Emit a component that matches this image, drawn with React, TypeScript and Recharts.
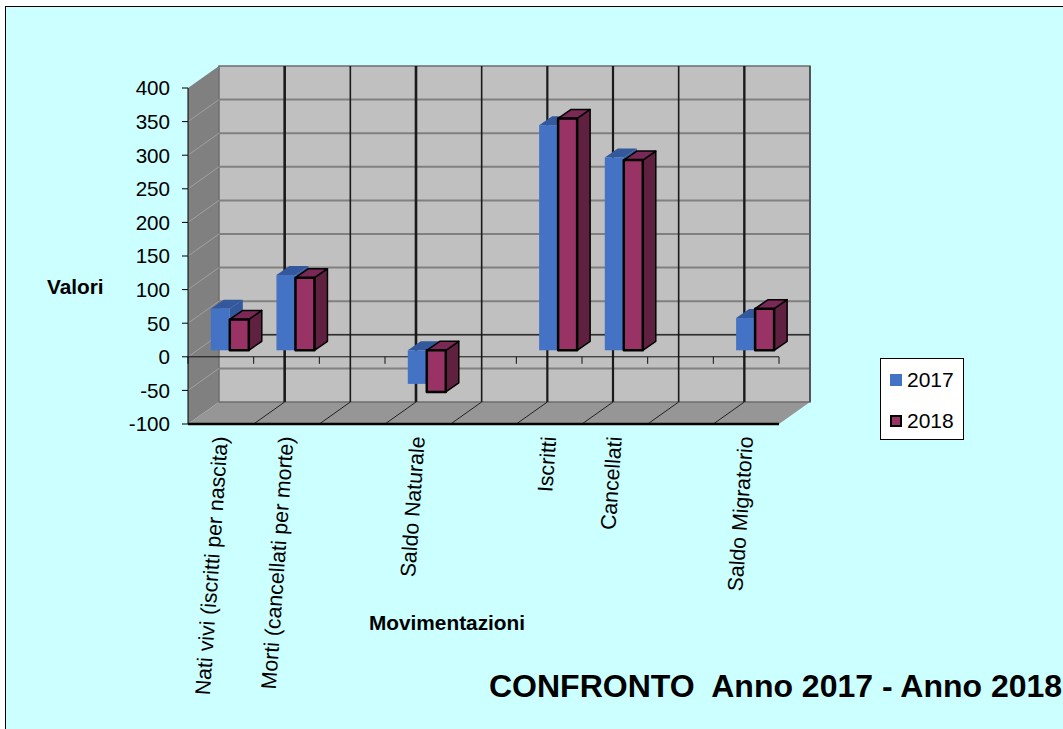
import { BarChart, Bar, XAxis, YAxis, Legend } from "recharts";

const categories = [
  "Nati vivi (iscritti per nascita)",
  "Morti (cancellati per morte)",
  "",
  "Saldo Naturale",
  "",
  "Iscritti",
  "Cancellati",
  "",
  "Saldo Migratorio",
];
const values2017 = [62, 112, null, -50, null, 335, 287, null, 48];
const values2018 = [46, 108, null, -62, null, 345, 283, null, 62];
const valueTicks = [-100, -50, 0, 50, 100, 150, 200, 250, 300, 350, 400];

const data = categories.map((name, i) => ({
  name: name || `blank${i}`,
  label: name,
  y2017: values2017[i],
  y2018: values2018[i],
}));

// plot box of the front plane and the depth of the 3D box
const LEFT = 188;
const RIGHT = 779;
const TOP = 88;
const BOTTOM = 424;
const DEPTH_X = 31;
const DEPTH_Y = -22;
const FONT = "'Liberation Sans', Arial, sans-serif";
// the back wall verticals are not all the same weight in the reference
const wallLineWidths = [2.6, 1.6, 2.6, 1.6, 2.2, 2.2, 1.6, 2.4];

const yOf = (v: number) => TOP + ((400 - v) * (BOTTOM - TOP)) / 500;
const slots = categories.map((_, i) => LEFT + ((i + 1) * (RIGHT - LEFT)) / categories.length);

function Walls() {
  return (
    <g>
      <polygon
        points={`${LEFT},${TOP} ${LEFT + DEPTH_X},${TOP + DEPTH_Y} ${LEFT + DEPTH_X},${BOTTOM + DEPTH_Y} ${LEFT},${BOTTOM}`}
        fill="#808080"
      />
      <polygon
        points={`${LEFT},${BOTTOM} ${RIGHT},${BOTTOM} ${RIGHT + DEPTH_X},${BOTTOM + DEPTH_Y} ${LEFT + DEPTH_X},${BOTTOM + DEPTH_Y}`}
        fill="#969696"
      />
      <rect
        x={LEFT + DEPTH_X}
        y={TOP + DEPTH_Y}
        width={RIGHT - LEFT}
        height={BOTTOM - TOP}
        fill="#c0c0c0"
        stroke="#6e6e6e"
        strokeWidth={1.5}
      />
      {valueTicks.slice(1, -1).map((v) => (
        <g key={v}>
          <line
            x1={LEFT}
            y1={yOf(v)}
            x2={LEFT + DEPTH_X}
            y2={yOf(v) + DEPTH_Y}
            stroke="#a0a0a0"
          />
          <line
            x1={LEFT + DEPTH_X}
            y1={yOf(v) + DEPTH_Y}
            x2={RIGHT + DEPTH_X}
            y2={yOf(v) + DEPTH_Y}
            stroke="#808080"
            strokeWidth={2}
          />
        </g>
      ))}
      {slots.slice(0, -1).map((x, i) => (
        <g key={x}>
          <line x1={x} y1={BOTTOM} x2={x + DEPTH_X} y2={BOTTOM + DEPTH_Y} stroke="#222" />
          <line
            x1={x + DEPTH_X}
            y1={TOP + DEPTH_Y}
            x2={x + DEPTH_X}
            y2={BOTTOM + DEPTH_Y}
            stroke="#1a1a1a"
            strokeWidth={wallLineWidths[i]}
          />
        </g>
      ))}
      <line x1={RIGHT + DEPTH_X} y1={TOP + DEPTH_Y} x2={RIGHT + DEPTH_X} y2={BOTTOM + DEPTH_Y} stroke="#444" strokeWidth={1.5} />
      {/* zero plane */}
      <line x1={LEFT + DEPTH_X} y1={yOf(0) + DEPTH_Y} x2={RIGHT + DEPTH_X} y2={yOf(0) + DEPTH_Y} stroke="#111" />
      <line x1={LEFT} y1={yOf(0)} x2={RIGHT} y2={yOf(0)} stroke="#111" />
      {[LEFT, ...slots].map((x) => (
        <line key={x} x1={x} y1={yOf(0)} x2={x} y2={yOf(0) + 7} stroke="#111" />
      ))}
    </g>
  );
}

function Box3D(props: any) {
  const { x, y, width, height, face, top, side, outline } = props;
  if (x == null || !height) return null;
  const dx = 9;
  const dy = -6.5;
  const d = 13;
  const e = -9;
  const x0 = x + dx;
  const x1 = x0 + width;
  const yTop = Math.min(y, y + height) + dy;
  const yBot = Math.max(y, y + height) + dy;
  const stroke = outline ? "#000" : "none";
  return (
    <g stroke={stroke} strokeWidth={outline ? 1.5 : 0} strokeLinejoin="round">
      <polygon points={`${x1},${yTop} ${x1 + d},${yTop + e} ${x1 + d},${yBot + e} ${x1},${yBot}`} fill={side} />
      <polygon points={`${x0},${yTop} ${x0 + d},${yTop + e} ${x1 + d},${yTop + e} ${x1},${yTop}`} fill={top} />
      <rect x={x0} y={yTop} width={width} height={yBot - yTop} fill={face} strokeWidth={outline ? 2.5 : 0} />
    </g>
  );
}

function CategoryTick(props: any) {
  const { x, payload, index } = props;
  return (
    <text
      transform={`translate(${x + 7},437) rotate(-86)`}
      textAnchor="end"
      fontFamily={FONT}
      fontSize={21.3}
      fill="#000"
    >
      {categories[index] ?? payload.value}
    </text>
  );
}

function LegendBox() {
  const rows = [
    { label: "2017", color: "#4472c4", border: false },
    { label: "2018", color: "#993366", border: true },
  ];
  return (
    <div
      style={{
        width: 84,
        height: 82,
        boxSizing: "border-box",
        background: "#fff",
        border: "1px solid #000",
        fontFamily: FONT,
        fontSize: 21,
        color: "#000",
        position: "relative",
      }}
    >
      {rows.map((r, i) => (
        <div key={r.label} style={{ position: "absolute", left: 9, top: 9 + i * 41, display: "flex", alignItems: "center", height: 24 }}>
          <span
            style={{
              width: 12,
              height: 12,
              boxSizing: "border-box",
              background: r.color,
              border: r.border ? "2px solid #000" : "none",
              marginRight: 5,
            }}
          />
          {r.label}
        </div>
      ))}
    </div>
  );
}

export default function App() {
  return (
    <div
      style={{
        position: "absolute",
        left: 0,
        top: 0,
        width: 1063,
        height: 729,
        overflow: "hidden",
        background: "#fff",
      }}
    >
      <div
        style={{
          position: "absolute",
          left: 5,
          top: 6,
          width: 1058,
          height: 723,
          boxSizing: "border-box",
          background: "#ccffff",
          borderLeft: "1px solid #000",
          borderTop: "1px solid #000",
        }}
      />
      <div style={{ position: "absolute", left: 0, top: 0 }}>
        <BarChart
          width={1063}
          height={729}
          data={data}
          margin={{ top: TOP, right: 1063 - RIGHT, bottom: 5, left: 0 }}
          barCategoryGap="21%"
          barGap={0}
        >
          <Walls />
          <XAxis
            dataKey="name"
            interval={0}
            height={300}
            axisLine={{ stroke: "#000", strokeWidth: 2.5 }}
            tickLine={false}
            tick={<CategoryTick />}
          />
          <YAxis
            type="number"
            domain={[-100, 400]}
            ticks={valueTicks}
            interval={0}
            width={LEFT}
            axisLine={{ stroke: "#000" }}
            tickLine={{ stroke: "#000" }}
            tickSize={6}
            tickMargin={12}
            tick={{ fill: "#000", fontFamily: FONT, fontSize: 20.6 }}
          />
          <Bar
            dataKey="y2017"
            isAnimationActive={false}
            shape={<Box3D face="#4472c4" top="#33589c" side="#33589c" />}
          />
          <Bar
            dataKey="y2018"
            isAnimationActive={false}
            shape={<Box3D face="#993366" top="#7a2855" side="#602040" outline />}
          />
          <Legend
            layout="horizontal"
            verticalAlign="middle"
            align="center"
            content={<LegendBox />}
            wrapperStyle={{ position: "absolute", left: 880, top: 358, width: 84, height: 82 }}
          />
          <text x={47} y={294} fontFamily={FONT} fontSize={20.8} fontWeight="bold" fill="#000">
            Valori
          </text>
          <text x={369} y={630} fontFamily={FONT} fontSize={20.8} fontWeight="bold" fill="#000">
            Movimentazioni
          </text>
          <text x={489} y={697} fontFamily={FONT} fontSize={32} fontWeight="bold" fill="#000" xmlSpace="preserve">
            CONFRONTO  Anno 2017 - Anno 2018
          </text>
        </BarChart>
      </div>
    </div>
  );
}
